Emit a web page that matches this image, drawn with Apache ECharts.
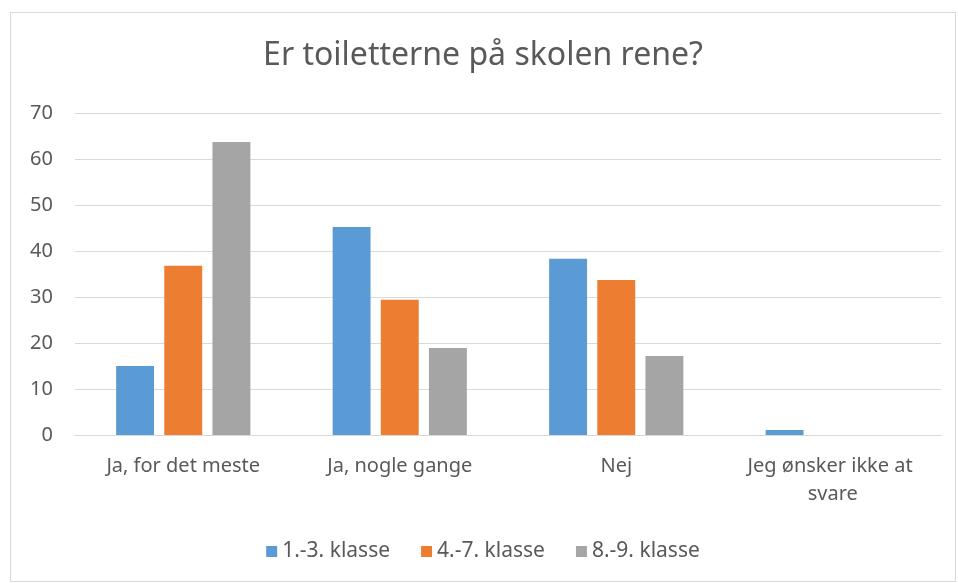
<!DOCTYPE html>
<html lang="da">
<head>
	<meta charset="UTF-8">
	<title>Er toiletterne på skolen rene?</title>
	<script src="https://cdn.jsdelivr.net/npm/echarts@6/dist/echarts.min.js"></script>
	<style>
		html, body { margin: 0; padding: 0; background: #fff; }
		#wrap { position: absolute; left: 10px; top: 12px; width: 946px; height: 570px; border: 1px solid #d9d9d9; box-sizing: border-box; }
		#chart { width: 100%; height: 100%; }
	</style>
</head>
<body>
	<div id="wrap"><div id="chart"></div></div>
	<script>
		var categories = ['Ja, for det meste', 'Ja, nogle gange', 'Nej', 'Jeg ønsker ikke at svare'];
		var seriesNames = ['1.-3. klasse', '4.-7. klasse', '8.-9. klasse'];
		var klasse13 = [15.0, 45.2, 38.3, 1.1];
		var klasse47 = [36.8, 29.4, 33.7, 0];
		var klasse89 = [63.7, 18.9, 17.2, 0];
		var colors = ['#5B9BD5', '#ED7D31', '#A5A5A5'];

		var values = [klasse13, klasse47, klasse89];
		var series = seriesNames.map(function(name, i) {
			return {
				name: name,
				type: 'bar',
				data: values[i],
				barGap: '27%',
				barCategoryGap: '38%',
				itemStyle: { color: colors[i] }
			};
		});

		var chart = echarts.init(document.getElementById('chart'));
		chart.setOption({
			animation: false,
			textStyle: { fontFamily: 'Noto Sans' },
			color: colors,
			title: {
				text: 'Er toiletterne på skolen rene?',
				left: 'center',
				top: 22,
				textStyle: { fontSize: 32, fontWeight: 'normal', color: '#595959', fontFamily: 'Noto Sans' }
			},
			legend: {
				top: 523,
				left: 'center',
				itemWidth: 11,
				itemHeight: 11,
				itemGap: 31,
				icon: 'rect',
				textStyle: { fontSize: 21, color: '#595959' }
			},
			grid: { left: 64, right: 14, top: 100, bottom: 146, containLabel: false },
			xAxis: {
				type: 'category',
				data: categories,
				axisTick: { show: false },
				axisLine: { lineStyle: { color: '#d9d9d9', width: 1 } },
				axisLabel: { interval: 0, fontSize: 20, color: '#595959', margin: 17, width: 200, overflow: 'break', lineHeight: 28 }
			},
			yAxis: {
				type: 'value',
				min: 0,
				max: 70,
				interval: 10,
				axisLine: { show: false },
				axisTick: { show: false },
				axisLabel: { fontSize: 20, color: '#595959', margin: 22 },
				splitLine: { lineStyle: { color: '#d9d9d9', width: 1 } }
			},
			series: series
		});
	</script>
</body>
</html>
